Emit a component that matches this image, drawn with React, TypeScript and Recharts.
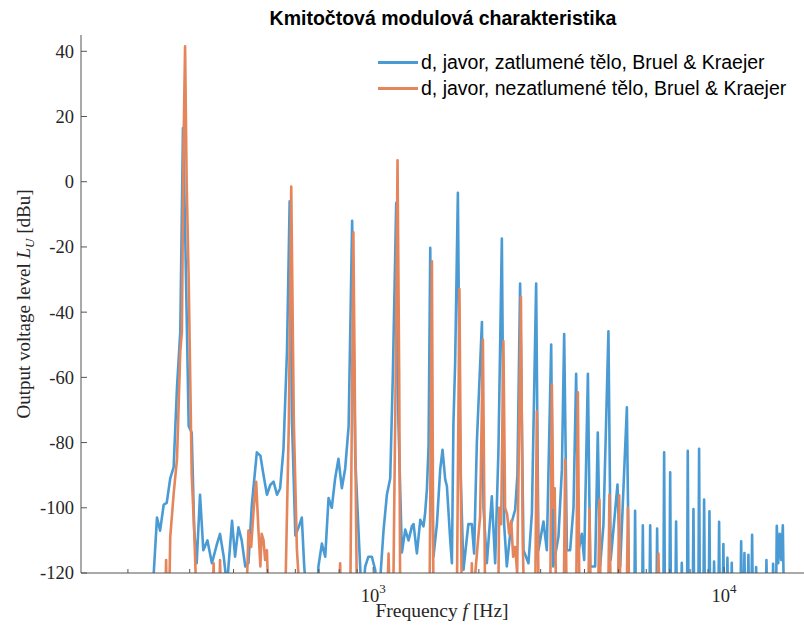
import { LineChart, Line, XAxis, YAxis } from "recharts";

// spectrum of the "d" tone on a maple body, [frequency Hz, level dBu]
// values under -120 dBu fall below the axis floor and get clipped
const zatlumene: [number, number][] = [
  [234, -130], [242, -103], [247, -107], [253, -99], [258, -98.5], [264, -91], [270, -87.5],
  [276, -63], [282, -46], [287, 16.5], [291, -14], [298, -75], [304, -77], [309, -107],
  [314, -117], [321, -96], [328, -113], [337, -110], [347, -117], [359, -111], [366, -108],
  [375, -115], [383, -124], [396, -104], [404, -115], [413, -106], [422, -110], [432, -118],
  [441, -117], [451, -99], [466, -83], [477, -84], [487, -90], [498, -96], [509, -93],
  [520, -92], [532, -96], [543, -94], [555, -82], [568, -52], [578, -6], [587, -73.5],
  [600, -108.5], [613, -106], [626, -103], [636, -118], [649, -130], [693, -130], [698, -118],
  [714, -111], [730, -115], [746, -97], [762, -100], [779, -91], [796, -85], [814, -94],
  [832, -88], [851, -75], [871, -12], [889, -85], [908, -107], [929, -130], [949, -118],
  [969, -115], [991, -115], [1013, -119], [1035, -130], [1070, -107], [1094, -96], [1118, -91],
  [1138, -58.5], [1163, -6.5], [1180, -73.5], [1207, -113.7], [1234, -106.7], [1261, -110],
  [1289, -105.7], [1303, -105], [1332, -114], [1362, -103.7], [1391, -105.7], [1406, -101.6],
  [1422, -94.5], [1438, -81], [1454, -20.3], [1470, -91], [1485, -115], [1519, -105],
  [1552, -88.3], [1576, -82.2], [1604, -91.3], [1622, -93.4], [1658, -110], [1676, -117],
  [1693, -74], [1712, -55.5], [1743, -3.4], [1769, -84.5], [1808, -119], [1867, -105],
  [1910, -105], [1939, -114], [1974, -80], [2041, -43], [2062, -100], [2108, -117],
  [2178, -96.5], [2226, -117], [2275, -82], [2326, -17.4], [2361, -105], [2403, -118],
  [2473, -105], [2538, -100.6], [2576, -90], [2622, -31.2], [2681, -113], [2770, -117],
  [2833, -101.6], [2913, -31.2], [2957, -113], [3056, -104.2], [3124, -113], [3215, -49.9],
  [3258, -118], [3373, -108.8], [3449, -88.3], [3501, -46.7], [3564, -113], [3641, -113],
  [3722, -100], [3787, -58.9], [3850, -113], [3931, -108], [3992, -116], [4091, -58.9],
  [4153, -118], [4290, -118], [4365, -76.9], [4432, -118], [4530, -105.3], [4681, -45.9],
  [4750, -116], [4837, -106.7], [4967, -92.9], [5056, -118], [5283, -69.2], [5363, -130],
  [5548, -130], [5576, -100.9], [5604, -130],
  [5837, -130], [5866, -105.4], [5895, -130],
  [6125, -130], [6156, -105.4], [6187, -130],
  [6411, -130], [6443, -106.4], [6475, -130],
  [6712, -130], [6746, -83], [6780, -130],
  [6984, -130], [7019, -89.1], [7054, -130],
  [7261, -130], [7297, -104.2], [7333, -130],
  [7537, -130], [7575, -116.9], [7613, -130],
  [7839, -130], [7878, -82.5], [7917, -130],
  [8136, -130], [8177, -100.4], [8218, -130],
  [8444, -130], [8486, -81.9], [8528, -130],
  [8726, -130], [8770, -97.5], [8814, -130],
  [9037, -130], [9082, -101.1], [9127, -130],
  [9316, -130], [9363, -116.5], [9410, -130],
  [9629, -130], [9677, -104.3], [9725, -130],
  [9901, -130], [9951, -111.1], [10001, -130],
  [10168, -130], [10219, -115.3], [10270, -130],
  [10461, -130], [10514, -116.9], [10567, -130],
  [11126, -130], [11182, -110.3], [11238, -130],
  [11370, -130], [11427, -113.9], [11484, -130],
  [11668, -130], [11727, -114.4], [11786, -130],
  [11956, -130], [12016, -108.3], [12076, -130],
  [12276, -130], [12338, -118.2], [12400, -130],
  [13135, -130], [13201, -116], [13267, -130],
  [13722, -130], [13791, -117.2], [13860, -130],
  [14056, -130], [14127, -105.5], [14260, -117], [14408, -108], [14550, -116],
  [14699, -105.4], [14810, -130],
];

const nezatlumene: [number, number][] = [
  [255, -130], [257, -116], [258, -130], [262, -130], [264, -109], [270, -95.7], [276, -85],
  [282, -52], [285, -46], [288, 10], [291, 41.5], [294, 0], [298, -30], [304, -90],
  [309, -107], [314, -130],
  [348, -130], [351, -117], [353, -130], [364, -130], [366, -116], [369, -130],
  [435, -130], [441, -107], [449, -112], [456, -101], [464, -92], [471, -107], [477, -118],
  [481, -108], [487, -110], [492, -116], [498, -113], [503, -130],
  [561, -130], [575, -73.5], [584, -1.5], [594, -73.5], [606, -112.6], [620, -130],
  [800, -130], [805, -117], [810, -130],
  [860, -130], [868, -80], [878, -15.5], [889, -80], [899, -130],
  [1096, -130], [1106, -114], [1115, -130], [1140, -130], [1148, -99.5], [1159, -60],
  [1173, 6.6], [1186, -60], [1194, -130],
  [1447, -130], [1470, -24.4], [1485, -130],
  [1731, -130], [1761, -32.9], [1788, -130],
  [1901, -130], [1910, -117], [1920, -130],
  [1982, -112], [2017, -102.6], [2054, -48.4], [2085, -130],
  [2271, -130], [2286, -100], [2315, -105], [2350, -48.9], [2376, -100], [2408, -102],
  [2440, -108], [2473, -104], [2505, -115], [2538, -112], [2572, -120], [2636, -35.3],
  [2667, -110], [2693, -130],
  [2894, -130], [2926, -70.4], [2961, -130],
  [3194, -130], [3230, -62.2], [3258, -100], [3290, -94], [3322, -130],
  [3490, -130], [3524, -85.2], [3559, -130],
  [3787, -130], [3830, -64.6], [3870, -130],
  [4099, -130], [4134, -100.3], [4170, -130],
  [4374, -130], [4412, -97.5], [4450, -130],
  [4672, -130], [4712, -96], [4752, -130],
  [4980, -130], [5023, -96.2], [5066, -130],
  [5273, -130], [5318, -100.1], [5365, -130],
  [6443, -130], [6498, -114], [6554, -130],
];

const freqTicks = [200, 300, 400, 500, 600, 700, 800, 900, 1000, 2000, 3000, 4000, 5000, 6000, 7000, 8000, 9000, 10000];
const levelTicks = [-120, -100, -80, -60, -40, -20, 0, 20, 40];

const seriesNames = [
  "d, javor, zatlumené tělo, Bruel & Kraejer",
  "d, javor, nezatlumené tělo, Bruel & Kraejer",
];

const BLUE = "#4a9bd4";
const ORANGE = "#e4855b";
const AXIS = "#555";
const TEXT = "#262626";
const SERIF = "'Liberation Serif', 'DejaVu Serif', serif";
const SANS = "'Liberation Sans', Arial, sans-serif";

const toRows = (pts: [number, number][]) => pts.map(([f, v]) => ({ f, v }));

const XTick = (props: any) => {
  const { x, y, payload } = props;
  const major = payload.value === 1000 || payload.value === 10000;
  return (
    <g>
      <line x1={x} x2={x} y1={y} y2={y - (major ? 6 : 4)} stroke={AXIS} strokeWidth={1} />
      {major && (
        <text x={x} y={y + 29} textAnchor="middle" fontFamily={SERIF} fontSize={18.5} fill={TEXT}>
          10
          <tspan dy={-9} fontSize={13}>
            {Math.round(Math.log10(payload.value))}
          </tspan>
        </text>
      )}
    </g>
  );
};

const YTick = (props: any) => {
  const { x, y, payload } = props;
  return (
    <g>
      <line x1={x} x2={x + 6} y1={y} y2={y} stroke={AXIS} strokeWidth={1} />
      <text x={x - 7} y={y} dy="0.35em" textAnchor="end" fontFamily={SERIF} fontSize={18.5} fill={TEXT}>
        {payload.value}
      </text>
    </g>
  );
};

export default function App() {
  return (
    <div style={{ position: "absolute", left: 0, top: 0, width: 804, height: 631, background: "#fff" }}>
      <LineChart width={804} height={631} margin={{ top: 35, right: 0, bottom: 0, left: 0 }}>
        <XAxis
          dataKey="f"
          type="number"
          scale="log"
          domain={[147, 16890]}
          allowDataOverflow
          ticks={freqTicks}
          interval={0}
          tick={<XTick />}
          tickLine={false}
          tickSize={0}
          tickMargin={0}
          height={58}
          stroke={AXIS}
        />
        <YAxis
          type="number"
          domain={[-120, 45]}
          allowDataOverflow
          ticks={levelTicks}
          interval={0}
          tick={<YTick />}
          tickLine={false}
          tickSize={0}
          tickMargin={0}
          width={81}
          stroke={AXIS}
        />
        <Line
          data={toRows(zatlumene)}
          dataKey="v"
          type="linear"
          stroke={BLUE}
          strokeWidth={2.6}
          strokeLinejoin="round"
          dot={false}
          isAnimationActive={false}
        />
        <Line
          data={toRows(nezatlumene)}
          dataKey="v"
          type="linear"
          stroke={ORANGE}
          strokeWidth={2.6}
          strokeLinejoin="round"
          dot={false}
          isAnimationActive={false}
        />
        <text x={442} y={617} textAnchor="middle" fontFamily={SERIF} fontSize={19.5} fill={TEXT}>
          Frequency <tspan fontStyle="italic">f</tspan> [Hz]
        </text>
        <text
          transform="translate(30,304) rotate(-90)"
          textAnchor="middle"
          fontFamily={SERIF}
          fontSize={19}
          fill={TEXT}
        >
          Output  voltage level <tspan fontStyle="italic">L</tspan>
          <tspan fontStyle="italic" fontSize={13} dy={4}>U</tspan>
          <tspan dy={-4}> [dBu]</tspan>
        </text>
      </LineChart>
      <div
        style={{
          position: "absolute",
          top: 7,
          left: 0,
          width: 886,
          textAlign: "center",
          fontFamily: SANS,
          fontWeight: "bold",
          fontSize: 19.5,
          color: "#000",
        }}
      >
        Kmitočtová modulová charakteristika
      </div>
      {seriesNames.map((name, i) => (
        <div
          key={name}
          style={{
            position: "absolute",
            left: 378,
            top: 51 + i * 26,
            display: "flex",
            alignItems: "center",
            fontFamily: SANS,
            fontSize: 19.5,
            color: "#000",
            whiteSpace: "nowrap",
          }}
        >
          <span style={{ display: "inline-block", width: 40, height: 3, background: i === 0 ? BLUE : ORANGE, marginRight: 3 }} />
          {name}
        </div>
      ))}
    </div>
  );
}
